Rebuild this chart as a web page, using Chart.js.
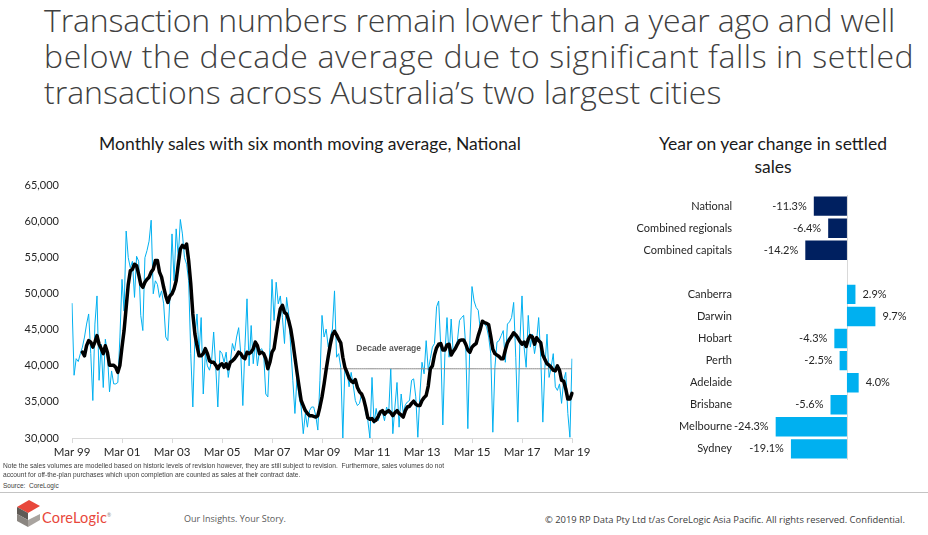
<!DOCTYPE html>
<html>
<head>
<meta charset="utf-8">
<script src="https://cdn.jsdelivr.net/npm/chart.js@4.4.0/dist/chart.umd.min.js"></script>
<style>
    body { margin: 0; width: 928px; height: 535px; background: #fff; position: relative; overflow: hidden; font-family: 'Lato', sans-serif; }
    .abs { position: absolute; }
    #headline { left: 44px; top: 2px; font-family: 'Open Sans', sans-serif; font-weight: 300; font-size: 32px; line-height: 36px; color: #404040; white-space: nowrap; }
    #headline span { display: block; }
    .chart-title { font-family: 'Lato', sans-serif; font-size: 17.5px; color: #1a1a1a; text-align: center; line-height: 23px; }
    #leftTitle { left: 60px; width: 500px; top: 132px; }
    #rightTitle { left: 640px; width: 266px; top: 132px; }
    #note { left: 3px; top: 462px; font-family: 'Liberation Sans', Arial, sans-serif; font-size: 6.65px; line-height: 8.5px; color: #404040; white-space: nowrap; }
    #source { left: 3px; top: 482px; font-family: 'Liberation Sans', Arial, sans-serif; font-size: 6.5px; color: #404040; }
    #rule { left: 0; top: 492px; width: 928px; height: 0; border-top: 1.5px solid #c4c4c4; }
    #brand { left: 42px; top: 509px; font-family: 'Lato', sans-serif; font-size: 14.5px; color: #e8473b; letter-spacing: 0.2px; }
    #brand sup { font-size: 5px; color: #888; }
    #tagline { left: 184px; top: 512px; font-family: 'Open Sans', sans-serif; font-size: 9px; color: #595959; }
    #copyright { left: 545px; top: 513px; font-family: 'Open Sans', sans-serif; font-size: 9.4px; color: #404040; white-space: nowrap; }
</style>
</head>
<body>
<div id="headline" class="abs"><span style="letter-spacing:-0.15px">Transaction numbers remain lower than a year ago and well</span><span style="letter-spacing:0.6px">below the decade average due to significant falls in settled</span><span style="letter-spacing:0px">transactions across Australia’s two largest cities</span></div>

<div id="leftTitle" class="abs chart-title">Monthly sales with six month moving average, National</div>
<div id="rightTitle" class="abs chart-title">Year on year change in settled<br>sales</div>

<canvas id="salesChart" class="abs" style="left:0;top:166px" width="600" height="300"></canvas>
<canvas id="yoyChart" class="abs" style="left:600px;top:185px" width="328" height="285"></canvas>

<div id="note" class="abs">Note the sales volumes are modelled based on historic levels of revision however, they are still subject to revision.&nbsp; Furthermore, sales volumes do not<br>account for off-the-plan purchases which upon completion are counted as sales at their contract date.</div>
<div id="source" class="abs">Source:&nbsp; CoreLogic</div>
<div id="rule" class="abs"></div>

<svg class="abs" style="left:15px;top:499px" width="27" height="30">
    <polygon points="2,8 14,1 25,7 13,14" fill="#e8473b"/>
    <polygon points="2,8 13,14 13,21 2,15" fill="#5f5a55"/>
    <polygon points="2,15 13,21 13,28 2,22" fill="#8a8580"/>
    <polygon points="13,21 25,15 25,21 13,28" fill="#a9a49f"/>
</svg>
<div id="brand" class="abs">CoreLogic<sup>®</sup></div>
<div id="tagline" class="abs">Our Insights. Your Story.</div>
<div id="copyright" class="abs">© 2019 RP Data Pty Ltd t/as CoreLogic Asia Pacific. All rights reserved. Confidential.</div>

<script>
// monthly settled sales, Mar 99 .. Mar 19
const monthlySales = [
    48700, 38700, 41000, 40600, 41700, 42600, 44000, 45800, 47200, 41700,
    35200, 45800, 49700, 38000, 43000, 37000, 43700, 41700, 36400, 39300,
    37500, 37500, 37700, 44000, 52000, 47600, 58700, 55000, 53600, 54500,
    49500, 55200, 54500, 47000, 44900, 55000, 56000, 57300, 60200, 50000,
    51800, 51300, 49500, 50400, 48600, 44000, 43500, 49500, 58300, 51800,
    59000, 55000, 60300, 58300, 55000, 54100, 51800, 41700, 34300, 44000,
    47200, 41700, 46700, 36100, 41700, 40000, 39400, 40700, 44700, 39800,
    34300, 42100, 41700, 40500, 41900, 38400, 40500, 43100, 42100, 44000,
    45300, 41700, 34500, 42600, 49300, 40000, 45600, 40300, 43500, 40000,
    42100, 42400, 41700, 36100, 35700, 42600, 52000, 46300, 51600, 48600,
    49700, 46700, 43100, 49500, 47200, 42600, 38000, 33400, 38400, 35700,
    34300, 30600, 33400, 31500, 33800, 34300, 34300, 33100, 31100, 38000,
    47000, 44000, 45100, 42600, 44000, 45100, 50400, 41200, 41700, 39800,
    30000, 39800, 39400, 37100, 39100, 37300, 35200, 34500, 34800, 36100,
    35400, 33400, 32400, 30000, 38400, 32000, 34100, 32400, 33400, 33600,
    32400, 34300, 33400, 39600, 30600, 34300, 37700, 31500, 36100, 33400,
    34600, 35000, 35200, 38000, 38200, 35700, 30100, 36100, 40500, 38900,
    43500, 39400, 41000, 42600, 43100, 48200, 49000, 42600, 31800, 41700,
    46700, 41200, 46500, 41700, 42600, 43500, 46300, 46700, 47000, 42600,
    31300, 43500, 51000, 49000, 48100, 47700, 44900, 46300, 45800, 45400,
    44000, 41700, 30800, 39800, 43300, 43500, 44200, 44900, 40500, 45800,
    46100, 46700, 48800, 41200, 32200, 43500, 49700, 42600, 39800, 47000,
    42600, 44400, 41700, 43500, 46700, 41200, 32200, 39800, 44400, 38400,
    39800, 41700, 37100, 36600, 37500, 34800, 38000, 39100, 33400, 30100,
    41000
];

const movingAverage = [
    null, null, null, null, null,
    41900, 41400, 42800, 43500, 43300, 42600, 43300, 44200, 43000, 42400,
    41700, 42800, 41900, 40100, 40100, 40100, 39800, 39100, 40100, 42600,
    44900, 48100, 51300, 53200, 53400, 54100, 53900, 52700, 51300, 50900,
    51600, 52000, 52300, 53000, 53400, 54600, 54600, 53000, 52300, 50900,
    49700, 48800, 49700, 50000, 50700, 51800, 54100, 56200, 56700, 56400,
    56900, 54600, 51400, 47200, 44400, 42800, 41400, 41400, 41700, 42400,
    41700, 40700, 40500, 40500, 40100, 39600, 40100, 40300, 39800, 40300,
    39600, 40500, 40700, 41000, 41400, 41900, 41700, 41200, 41000, 41900,
    41700, 41900, 42400, 43300, 42800, 41700, 41900, 41700, 41000, 39600,
    40500, 41900, 42400, 44400, 46300, 47900, 48400, 47400, 47200, 46300,
    45100, 43300, 41200, 39100, 37100, 35200, 34500, 33800, 33400, 33100,
    33100, 33000,
    32900, 33100, 34300, 35700, 37500, 39500, 41300, 43000, 44300, 44800,
    44300, 43700, 43200, 41200, 39800, 39100, 38300, 37900, 37700, 38100,
    37000, 36400, 36100, 35400, 34200, 32800, 32600, 32700, 32300, 32500,
    33000, 33600, 33800, 33300, 33600, 33800, 33500, 33100, 33500, 33800,
    33400, 33200, 32900, 33800, 34300, 34400, 34800, 35100, 34700, 34500,
    34500, 35200, 35600, 35900, 37200, 39600, 40000, 41500, 42500, 43000,
    43100, 42200, 42200, 42900, 43000, 41500, 42000, 42400, 43000, 43500,
    43600, 43600, 43000, 42200, 41900, 42600, 42900, 43100, 44200, 45100,
    46200, 46000, 45900, 45700, 44100, 42300, 41700, 41500, 41300, 41000,
    41000, 42200, 43200, 43700, 44100, 44600, 44300, 43900, 43400, 43000,
    43300, 42700, 43700, 44200, 44000, 43000, 43900, 43500, 43200, 41500,
    40900, 40300, 40100, 39800, 39400, 39300, 40000, 39400, 38000, 37900,
    36800, 35400, 35400, 36200
];

const decadeAverage = 39600;
const decadeStart = 'Mar 09';
const decadeLabelAt = 'Nov 11';

const tickLabels = ['Mar 99', 'Mar 01', 'Mar 03', 'Mar 05', 'Mar 07', 'Mar 09', 'Mar 11', 'Mar 13', 'Mar 15', 'Mar 17', 'Mar 19'];

const yoyLabels = ['National', 'Combined regionals', 'Combined capitals', '', 'Canberra', 'Darwin', 'Hobart', 'Perth', 'Adelaide', 'Brisbane', 'Melbourne', 'Sydney'];
const yoyValues = [-11.3, -6.4, -14.2, null, 2.9, 9.7, -4.3, -2.5, 4.0, -5.6, -24.3, -19.1];

const monthNames = ['Jan', 'Feb', 'Mar', 'Apr', 'May', 'Jun', 'Jul', 'Aug', 'Sep', 'Oct', 'Nov', 'Dec'];
const months = monthlySales.map((v, i) => {
    const m = 2 + i;
    const yr = (1999 + Math.floor(m / 12)) % 100;
    return monthNames[m % 12] + ' ' + String(yr).padStart(2, '0');
});
const decadeIdx = months.indexOf(decadeStart);
const decadeLine = months.map((m, i) => i >= decadeIdx ? decadeAverage : null);

const textColor = '#262626';

// "Decade average" caption above the grey line
const decadeLabelPlugin = {
    id: 'decadeLabel',
    afterDatasetsDraw(chart) {
        const ctx = chart.ctx;
        const x = chart.scales.x.getPixelForValue(months.indexOf(decadeLabelAt));
        const y = chart.scales.y.getPixelForValue(decadeAverage);
        ctx.save();
        ctx.font = 'bold 8.5px "Liberation Sans", Arial, sans-serif';
        ctx.fillStyle = '#595959';
        ctx.textAlign = 'center';
        ctx.textBaseline = 'middle';
        ctx.fillText('Decade average', x, y - 20);
        ctx.restore();
    }
};

new Chart(document.getElementById('salesChart'), {
    type: 'line',
    data: {
        labels: months,
        datasets: [
            {
                label: 'Six month moving average',
                data: movingAverage,
                borderColor: '#000000',
                borderWidth: 3.5,
                borderJoinStyle: 'round',
                borderCapStyle: 'round',
                pointRadius: 0,
                order: 0
            },
            {
                label: 'Decade average',
                data: decadeLine,
                borderColor: '#8c8c8c',
                borderWidth: 1,
                pointRadius: 0,
                order: 1
            },
            {
                label: 'Monthly sales',
                data: monthlySales,
                borderColor: '#00b0f0',
                borderWidth: 1,
                pointRadius: 0,
                order: 2
            }
        ]
    },
    options: {
        responsive: false,
        animation: false,
        devicePixelRatio: 1,
        layout: { padding: { top: 9, right: 28, left: 0, bottom: 0 } },
        plugins: {
            legend: { display: false },
            tooltip: { enabled: false }
        },
        scales: {
            x: {
                grid: { drawOnChartArea: false, drawTicks: true, tickLength: 5, color: '#d9d9d9' },
                border: { color: '#d9d9d9' },
                ticks: {
                    autoSkip: false,
                    maxRotation: 0,
                    padding: 2,
                    color: textColor,
                    font: { family: 'Lato', size: 11.5 },
                    callback: (v, i) => tickLabels.includes(months[i]) ? months[i] : null
                },
                afterFit: s => { s.height = 28; }
            },
            y: {
                min: 30000,
                max: 65000,
                grid: { display: false, drawTicks: false },
                border: { display: false },
                ticks: {
                    stepSize: 5000,
                    padding: 13,
                    color: textColor,
                    font: { family: 'Lato', size: 11 },
                    callback: v => v.toLocaleString('en-US')
                },
                afterFit: s => { s.width = 72; }
            }
        }
    },
    plugins: [decadeLabelPlugin]
});

// value labels at the bar ends, plus the zero line
const yoyPlugin = {
    id: 'yoyLabels',
    beforeDatasetsDraw(chart) {
        const ctx = chart.ctx;
        const x0 = Math.round(chart.scales.x.getPixelForValue(0)) + 0.5;
        ctx.save();
        ctx.strokeStyle = '#d9d9d9';
        ctx.lineWidth = 1;
        ctx.beginPath();
        ctx.moveTo(x0, chart.chartArea.top);
        ctx.lineTo(x0, chart.chartArea.bottom);
        ctx.stroke();
        ctx.restore();
    },
    afterDatasetsDraw(chart) {
        const ctx = chart.ctx;
        const meta = chart.getDatasetMeta(0);
        ctx.save();
        ctx.font = '11px Lato, sans-serif';
        ctx.fillStyle = textColor;
        ctx.textBaseline = 'middle';
        meta.data.forEach((bar, i) => {
            const v = yoyValues[i];
            if (v === null) return;
            const txt = v.toFixed(1) + '%';
            if (v < 0) {
                ctx.textAlign = 'right';
                ctx.fillText(txt, bar.x - 7, bar.y);
            } else {
                ctx.textAlign = 'left';
                ctx.fillText(txt, bar.x + 7, bar.y);
            }
        });
        ctx.restore();
    }
};

new Chart(document.getElementById('yoyChart'), {
    type: 'bar',
    data: {
        labels: yoyLabels,
        datasets: [{
            label: 'Year on year change',
            data: yoyValues,
            backgroundColor: c => c.dataIndex < 3 ? '#002060' : '#00b0f0',
            categoryPercentage: 1,
            barPercentage: 0.88
        }]
    },
    options: {
        indexAxis: 'y',
        responsive: false,
        animation: false,
        devicePixelRatio: 1,
        layout: { padding: { top: 10, right: 40, left: 0, bottom: 7 } },
        plugins: {
            legend: { display: false },
            tooltip: { enabled: false }
        },
        scales: {
            x: {
                min: -38,
                max: 14,
                display: true,
                grid: { display: false, drawTicks: false },
                border: { display: false },
                ticks: { display: false },
                afterFit: s => { s.height = 0; }
            },
            y: {
                grid: { display: false, drawTicks: false },
                border: { display: false },
                ticks: {
                    padding: 3.5,
                    color: textColor,
                    font: { family: 'Lato', size: 11 },
                    autoSkip: false
                },
                afterFit: s => { s.width = 135.5; }
            }
        }
    },
    plugins: [yoyPlugin]
});
</script>
</body>
</html>
